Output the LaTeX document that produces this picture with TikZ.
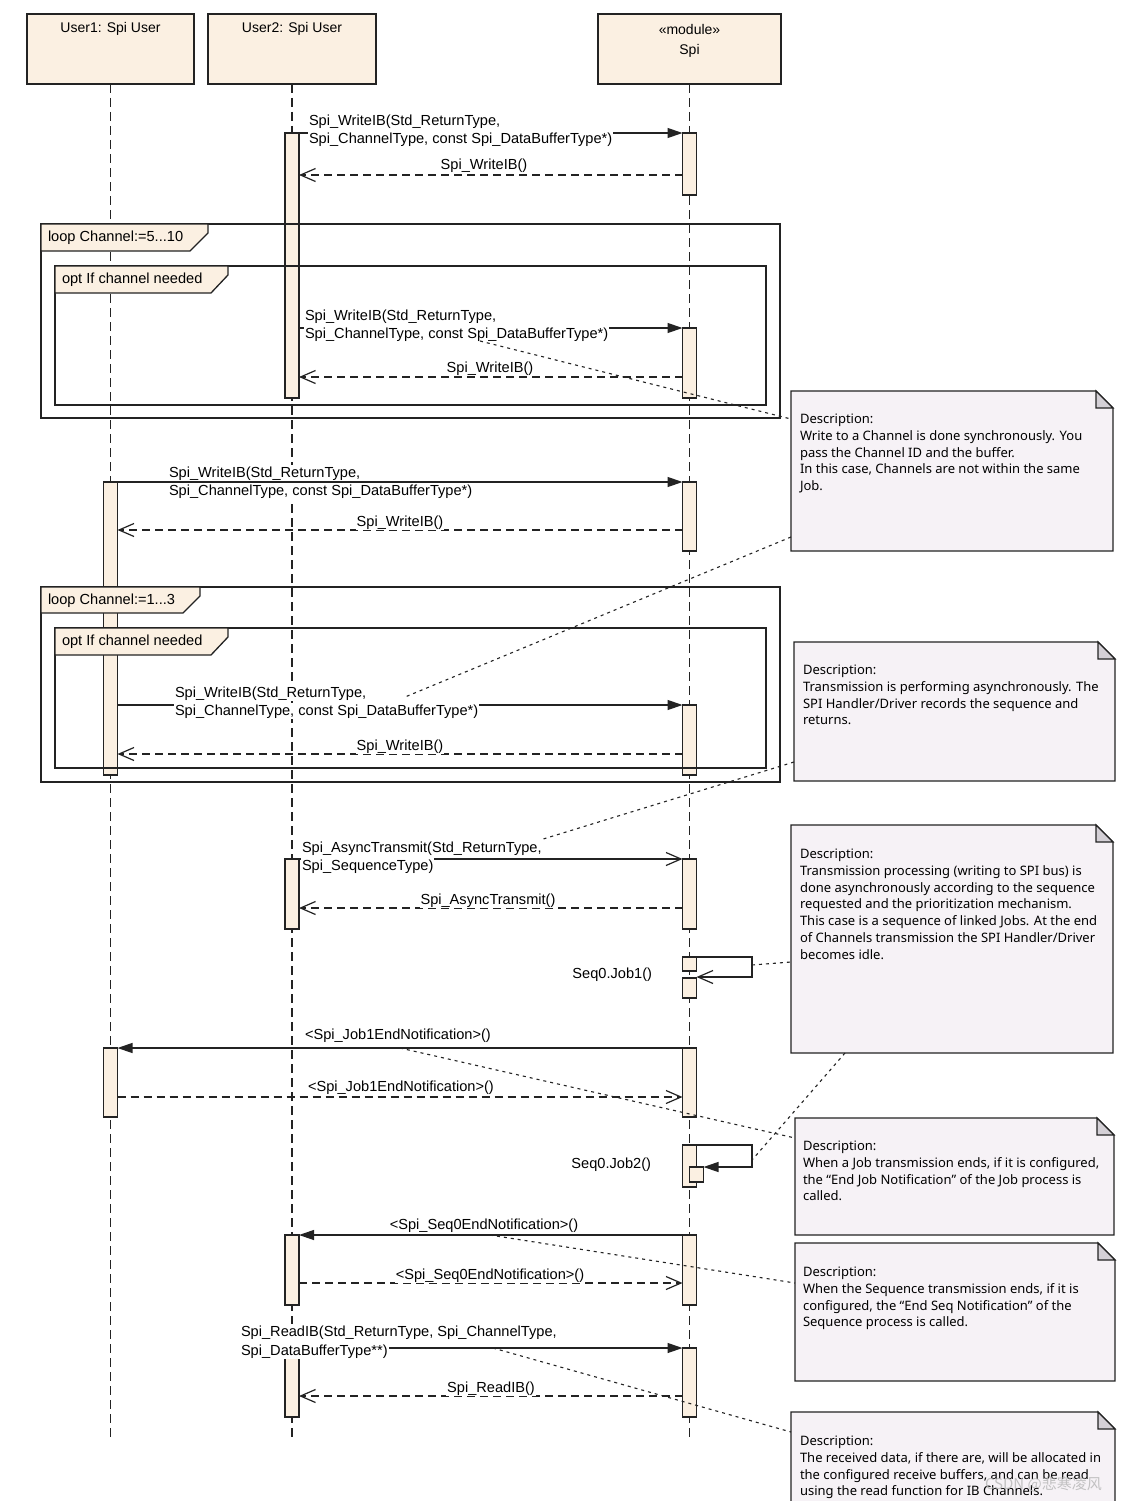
\documentclass[tikz,border=0pt]{standalone}
\usepackage{fontspec}
\setmainfont{Liberation Sans}
\newfontfamily\notefont{Noto Sans}
\newfontfamily\cjkfont{Noto Sans CJK SC}
\usetikzlibrary{arrows.meta,calc}
\definecolor{headfill}{RGB}{251,240,226}
\definecolor{notefill}{RGB}{246,242,246}
\definecolor{foldfill}{RGB}{212,208,214}
\definecolor{ink}{RGB}{35,35,35}

\newcommand\actbox[4]{\node[act, minimum height={#4-#3}] (#1) at (#2,#3) {};}
\newcommand\mynote[5]{%
  \node[anchor=north west, minimum width={#4-#2}, minimum height={#5-#3}] (#1) at (#2,#3) {};
  \filldraw[ln, fill=notefill] (#1.north west) -- ($(#1.north east)+(-17,0)$) -- ($(#1.north east)+(0,17)$) -- (#1.south east) -- (#1.south west) -- cycle;
  \filldraw[ln, fill=foldfill] ($(#1.north east)+(-17,0)$) -- ($(#1.north east)+(-17,17)$) -- ($(#1.north east)+(0,17)$) -- cycle;}
\newcommand\myframe[5]{%
  \node[anchor=north west, minimum width={#4-#2}, minimum height={#5-#3}] (#1) at (#2,#3) {};
  \draw[frame] (#1.north west) rectangle (#1.south east);}

\begin{document}
\begin{tikzpicture}[x=1pt,y=-1pt,
  every node/.style={inner sep=0pt, outer sep=0pt},
  ln/.style={draw=ink, line width=1.2pt},
  head/.style={ln, fill=headfill, anchor=north west},
  act/.style={ln, fill=headfill, minimum width=14pt, anchor=north},
  lifeline/.style={draw=ink, line width=1.2pt, dash pattern=on 9pt off 5pt},
  msg/.style={draw=ink, line width=1.2pt, -{Triangle[length=15pt,width=10pt]}},
  async/.style={draw=ink, line width=1.2pt, -{Straight Barb[length=15pt,width=13pt]}},
  ret/.style={async, dash pattern=on 8pt off 5pt},
  conn/.style={draw=ink, line width=1.1pt, dash pattern=on 3pt off 4pt},
  lbl/.style={font=\fontsize{14.6}{18}\selectfont, fill=white, inner sep=1pt, text=black},
  headtxt/.style={font=\fontsize{14}{18}\selectfont, text=black},
  tabtxt/.style={font=\fontsize{14.6}{18}\selectfont, anchor=west, text=black},
  frame/.style={draw=ink, line width=1.5pt},
  tab/.style={draw=ink, line width=1.3pt, fill=headfill},
  notetext/.style={font=\notefont\fontsize{13}{16.75}\selectfont, align=left, anchor=north west, text=black},
]
\fill[white] (0,0) rectangle (1131,1501);
\useasboundingbox (0,0) rectangle (1131,1501);

% lifeline heads
\node[head, minimum width=167pt, minimum height=70pt] (u1) at (27,14) {};
\node[head, minimum width=168pt, minimum height=70pt] (u2) at (208,14) {};
\node[head, minimum width=183pt, minimum height=70pt] (sp) at (598,14) {};
\node[headtxt] (u1t) at (110.5,29) {User1: Spi User};
\node[headtxt] (u2t) at (292,29) {User2: Spi User};
\node[headtxt] (spt1) at (689.5,29) {«module»};
\node[headtxt] (spt2) at (689.5,51) {Spi};

% lifelines
\coordinate (u1e) at (110.5,1440);
\coordinate (u2e) at (292,1440);
\coordinate (spe) at (689.5,1440);
\draw[lifeline] (u1.south) -- (u1e);
\draw[lifeline] (u2.south) -- (u2e);
\draw[lifeline] (sp.south) -- (spe);

% activations
\actbox{a1}{292}{133}{398}
\actbox{s1}{689.5}{133}{195}
\actbox{s2}{689.5}{328}{398}
\actbox{b1}{110.5}{482}{775}
\actbox{s3}{689.5}{482}{551}
\actbox{s4}{689.5}{705}{775}
\actbox{a2}{292}{859}{929}
\actbox{s5}{689.5}{859}{929}
\actbox{j1a}{689.5}{957}{971}
\actbox{j1b}{689.5}{978}{998}
\actbox{b2}{110.5}{1048}{1117}
\actbox{s6}{689.5}{1048}{1117}
\actbox{j2}{689.5}{1145}{1187}
\actbox{j2i}{696.5}{1167}{1182}
\actbox{a3}{292}{1235}{1305}
\actbox{s7}{689.5}{1235}{1305}
\actbox{a4}{292}{1348}{1417}
\actbox{s8}{689.5}{1348}{1417}

% messages
\draw[msg] (a1.east |- s1.north) -- (s1.north west);
\draw[ret] (s1.west |- 0,175) -- (a1.east |- 0,175);
\draw[msg] (a1.east |- s2.north) -- (s2.north west);
\draw[ret] (s2.west |- 0,377) -- (a1.east |- 0,377);
\draw[msg] (b1.north east) -- (s3.north west);
\draw[ret] (s3.west |- 0,530) -- (b1.east |- 0,530);
\draw[msg] (b1.east |- s4.north) -- (s4.north west);
\draw[ret] (s4.west |- 0,754) -- (b1.east |- 0,754);
\draw[async] (a2.north east) -- (s5.north west);
\draw[ret] (s5.west |- 0,908) -- (a2.east |- 0,908);
\coordinate (j1r) at (752,957);
\draw[async] (j1a.north east) -- (j1r) -- (j1r |- 0,977) -- (j1a.east |- 0,977);
\draw[msg] (s6.north west) -- (b2.north east);
\draw[ret] (b2.east |- 0,1097) -- (s6.west |- 0,1097);
\coordinate (j2r) at (752,1145);
\draw[msg] (j2.north east) -- (j2r) -- (j2r |- j2i.north) -- (j2i.north east);
\draw[msg] (s7.north west) -- (a3.north east);
\draw[ret] (a3.east |- 0,1283) -- (s7.west |- 0,1283);
\draw[msg] (a4.north east) -- (s8.north west);
\draw[ret] (s8.west |- 0,1396) -- (a4.east |- 0,1396);

% message labels
\node[lbl, anchor=base west] (m1a) at (308,125) {Spi\_WriteIB(Std\_ReturnType,};
\node[lbl, anchor=base west] (m1b) at (308,143) {Spi\_ChannelType, const Spi\_DataBufferType*)};
\node[lbl, anchor=base] (r1) at (484,169) {Spi\_WriteIB()};
\node[lbl, anchor=base west] (m2a) at (304,320) {Spi\_WriteIB(Std\_ReturnType,};
\node[lbl, anchor=base west] (m2b) at (304,338) {Spi\_ChannelType, const Spi\_DataBufferType*)};
\node[lbl, anchor=base] (r2) at (490,372) {Spi\_WriteIB()};
\node[lbl, anchor=base west] (m3a) at (168,477) {Spi\_WriteIB(Std\_ReturnType,};
\node[lbl, anchor=base west] (m3b) at (168,495) {Spi\_ChannelType, const Spi\_DataBufferType*)};
\node[lbl, anchor=base] (r3) at (400,526) {Spi\_WriteIB()};
\node[lbl, anchor=base west] (m4a) at (174,697) {Spi\_WriteIB(Std\_ReturnType,};
\node[lbl, anchor=base west] (m4b) at (174,715) {Spi\_ChannelType, const Spi\_DataBufferType*)};
\node[lbl, anchor=base] (r4) at (400,750) {Spi\_WriteIB()};
\node[lbl, anchor=base west] (m5a) at (301,852) {Spi\_AsyncTransmit(Std\_ReturnType,};
\node[lbl, anchor=base west] (m5b) at (301,870) {Spi\_SequenceType)};
\node[lbl, anchor=base] (r5) at (488,904) {Spi\_AsyncTransmit()};
\node[lbl, anchor=base east] (j1l) at (653,978) {Seq0.Job1()};
\node[lbl, anchor=base west] (n1l) at (304,1039) {<Spi\_Job1EndNotification>()};
\node[lbl, anchor=base west] (n1r) at (307,1091) {<Spi\_Job1EndNotification>()};
\node[lbl, anchor=base east] (j2l) at (652,1168) {Seq0.Job2()};
\node[lbl, anchor=base] (s1l) at (484,1229) {<Spi\_Seq0EndNotification>()};
\node[lbl, anchor=base] (s1r) at (490,1279) {<Spi\_Seq0EndNotification>()};
\node[lbl, anchor=base west] (rda) at (240,1336) {Spi\_ReadIB(Std\_ReturnType, Spi\_ChannelType,};
\node[lbl, anchor=base west] (rdb) at (240,1355) {Spi\_DataBufferType**)};
\node[lbl, anchor=base] (rdr) at (491,1392) {Spi\_ReadIB()};

% combined fragments
\myframe{loop1}{41}{224}{780}{418}
\myframe{opt1}{55}{266}{766}{405}
\myframe{loop2}{41}{587}{780}{782}
\myframe{opt2}{55}{628}{766}{768}
\filldraw[tab] (loop1.north west) -- ++(167,0) -- ++(0,9) -- ++(-18,18) -- ++(-149,0) -- cycle;
\filldraw[tab] (opt1.north west) -- ++(173,0) -- ++(0,9) -- ++(-17,18) -- ++(-156,0) -- cycle;
\filldraw[tab] (loop2.north west) -- ++(159,0) -- ++(0,9) -- ++(-17,17) -- ++(-142,0) -- cycle;
\filldraw[tab] (opt2.north west) -- ++(173,0) -- ++(0,9) -- ++(-17,18) -- ++(-156,0) -- cycle;
\node[tabtxt] (loop1t) at (48,238) {loop Channel:=5...10};
\node[tabtxt] (opt1t) at (62,280) {opt If channel needed};
\node[tabtxt] (loop2t) at (48,600.5) {loop Channel:=1...3};
\node[tabtxt] (opt2t) at (62,642) {opt If channel needed};

% notes
\mynote{n1}{791}{391}{1113}{551}
\mynote{n2}{794}{642}{1115}{781}
\mynote{n3}{791}{825}{1113}{1053}
\mynote{n4}{795}{1118}{1114}{1235}
\mynote{n5}{795}{1243}{1115}{1381}
\mynote{n6}{791}{1412}{1115}{1515}
\node[notetext] (n1t) at (800,414) {Description:\\Write to a Channel is done synchronously. You\\pass the Channel ID and the buffer.\\In this case, Channels are not within the same\\Job.};
\node[notetext] (n2t) at (803,665) {Description:\\Transmission is performing asynchronously. The\\SPI Handler/Driver records the sequence and\\returns.};
\node[notetext] (n3t) at (800,849) {Description:\\Transmission processing (writing to SPI bus) is\\done asynchronously according to the sequence\\requested and the prioritization mechanism.\\This case is a sequence of linked Jobs. At the end\\of Channels transmission the SPI Handler/Driver\\becomes idle.};
\node[notetext] (n4t) at (803,1141) {Description:\\When a Job transmission ends, if it is configured,\\the “End Job Notification” of the Job process is\\called.};
\node[notetext] (n5t) at (803,1267) {Description:\\When the Sequence transmission ends, if it is\\configured, the “End Seq Notification” of the\\Sequence process is called.};
\node[notetext] (n6t) at (800,1436) {Description:\\The received data, if there are, will be allocated in\\the configured receive buffers, and can be read\\using the read function for IB Channels.};

% note connectors
\coordinate (k1) at (480,341);
\coordinate (k2) at (405,697);
\coordinate (k3) at (540,840);
\coordinate (k4) at (752,965);
\coordinate (k5) at (752,1160);
\coordinate (k6) at (400,1048);
\coordinate (k7) at (490,1235);
\coordinate (k8) at (493,1348);
\draw[conn] (k1) -- (n1.west |- 0,419);
\draw[conn] (n1.west |- 0,537) -- (k2);
\draw[conn] (n2.west |- 0,762) -- (k3);
\draw[conn] (k4) -- (n3.west |- 0,962);
\draw[conn] ($(n3.south west)+(54,0)$) -- (k5);
\draw[conn] (k6) -- (n4.west |- 0,1138);
\draw[conn] (k7) -- (n5.west |- 0,1283);
\draw[conn] (k8) -- (n6.west |- 0,1432);

% watermark
\node[text=gray!55, opacity=0.85, font=\cjkfont\fontsize{15}{15}\selectfont, anchor=base west] (wm) at (985,1489) {CSDN @悲寒凌风};
\end{tikzpicture}
\end{document}
